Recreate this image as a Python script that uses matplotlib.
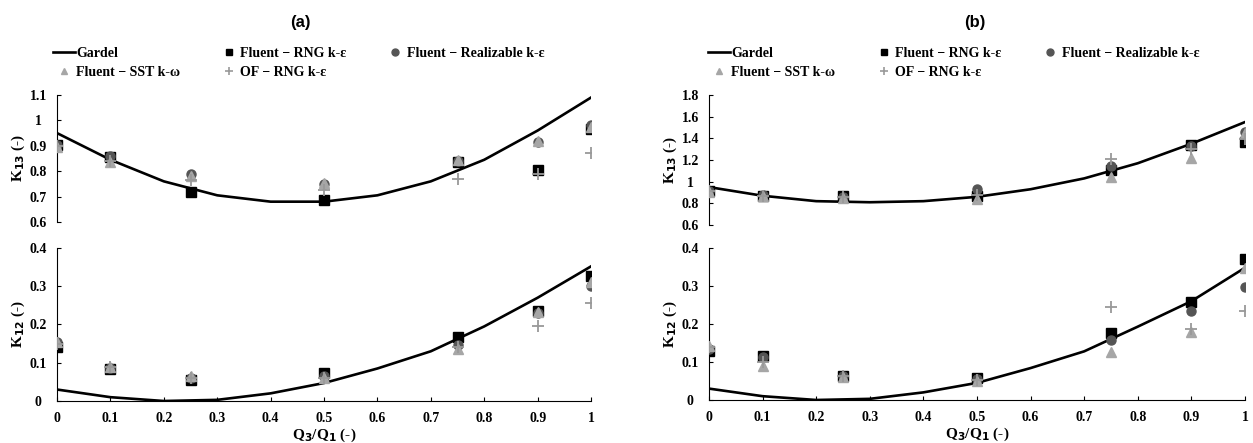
import numpy as np
import matplotlib
matplotlib.use("Agg")
import matplotlib.pyplot as plt
from matplotlib.lines import Line2D
from matplotlib.ticker import FuncFormatter

plt.rcParams['font.family'] = ['Liberation Serif', 'DejaVu Serif']
plt.rcParams['font.weight'] = 'bold'

# Gardel curve
x_line = [0, 0.1, 0.2, 0.3, 0.4, 0.5, 0.6, 0.7, 0.8, 0.9, 1.0]
gardel_k13_a = [0.95, 0.845, 0.76, 0.705, 0.68, 0.68, 0.705, 0.76, 0.845, 0.96, 1.09]
gardel_k12_a = [0.03, 0.01, 0.0, 0.003, 0.02, 0.047, 0.085, 0.13, 0.195, 0.27, 0.352]
gardel_k13_b = [0.95, 0.87, 0.82, 0.81, 0.82, 0.86, 0.93, 1.03, 1.17, 1.35, 1.55]
gardel_k12_b = [0.03, 0.01, 0.0, 0.003, 0.02, 0.045, 0.084, 0.128, 0.193, 0.26, 0.348]

# CFD points
x_pts = [0, 0.1, 0.25, 0.5, 0.75, 0.9, 1.0]

rng_k13_a = [0.905, 0.855, 0.72, 0.685, 0.835, 0.805, 0.965]
real_k13_a = [0.905, 0.86, 0.79, 0.75, 0.84, 0.915, 0.98]
sst_k13_a = [0.895, 0.835, 0.78, 0.755, 0.845, 0.92, 0.975]
of_k13_a = [0.90, 0.84, 0.765, 0.725, 0.77, 0.79, 0.87]

rng_k12_a = [0.14, 0.083, 0.055, 0.073, 0.168, 0.235, 0.327]
real_k12_a = [0.155, 0.087, 0.06, 0.065, 0.147, 0.23, 0.30]
sst_k12_a = [0.155, 0.09, 0.065, 0.06, 0.135, 0.233, 0.31]
of_k12_a = [0.15, 0.088, 0.06, 0.06, 0.14, 0.197, 0.257]

rng_k13_b = [0.91, 0.87, 0.87, 0.87, 1.11, 1.34, 1.37]
real_k13_b = [0.91, 0.875, 0.86, 0.93, 1.14, 1.33, 1.46]
sst_k13_b = [0.905, 0.865, 0.85, 0.84, 1.04, 1.22, 1.45]
of_k13_b = [0.91, 0.87, 0.86, 0.88, 1.21, 1.30, 1.39]

rng_k12_b = [0.128, 0.115, 0.062, 0.058, 0.177, 0.259, 0.371]
real_k12_b = [0.135, 0.113, 0.063, 0.055, 0.157, 0.234, 0.298]
sst_k12_b = [0.142, 0.09, 0.06, 0.05, 0.126, 0.18, 0.347]
of_k12_b = [0.14, 0.10, 0.062, 0.052, 0.245, 0.186, 0.235]

c_rng = 'black'
c_real = '#555555'
c_sst = '#a6a6a6'
c_of = '#999999'
fs = 10


def fmt(v, pos):
    return '%g' % round(v, 2)


def draw(ax, gardel, rng, real, sst, of):
    ax.plot(x_line, gardel, color='black', lw=1.9, zorder=2)
    ax.plot(x_pts, rng, 's', color=c_rng, ms=7, zorder=3)
    ax.plot(x_pts, real, 'o', color=c_real, ms=6.5, zorder=4)
    ax.plot(x_pts, sst, '^', color=c_sst, ms=6.5, zorder=5)
    ax.plot(x_pts, of, '+', color=c_of, ms=8, mew=1.3, zorder=6)
    ax.set_xlim(0, 1)
    for s in ['top', 'right']:
        ax.spines[s].set_visible(False)
    ax.spines['left'].set_linewidth(0.8)
    ax.spines['bottom'].set_linewidth(0.8)
    ax.tick_params(direction='in', length=3, width=0.8, labelsize=fs)
    ax.tick_params(axis='y', pad=13.5)
    ax.tick_params(axis='x', pad=8)
    ax.yaxis.set_major_formatter(FuncFormatter(fmt))
    ax.xaxis.set_major_formatter(FuncFormatter(fmt))
    ax.set_xticks(np.arange(0, 1.01, 0.1))


def center_yticks(ax):
    for lab in ax.get_yticklabels():
        lab.set_horizontalalignment('center')


fig = plt.figure(figsize=(12.53, 4.43), dpi=100)

panels = [
    ('(a)', 0.0455, 0.4262, 0.4989, 0.2867, 0.0948, 0.3454,
     gardel_k13_a, rng_k13_a, real_k13_a, sst_k13_a, of_k13_a, (0.6, 1.1), 0.1,
     gardel_k12_a, rng_k12_a, real_k12_a, sst_k12_a, of_k12_a, 300, 53),
    ('(b)', 0.5658, 0.4278, 0.4921, 0.2935, 0.0971, 0.3431,
     gardel_k13_b, rng_k13_b, real_k13_b, sst_k13_b, of_k13_b, (0.6, 1.8), 0.2,
     gardel_k12_b, rng_k12_b, real_k12_b, sst_k12_b, of_k12_b, 975, 708),
]

for (title, x0, w, yb_top, h_top, yb_bot, h_bot,
     g13, r13, re13, s13, o13, ylim13, step13,
     g12, r12, re12, s12, o12, title_x, leg_x) in panels:
    ax1 = fig.add_axes([x0, yb_top, w, h_top])
    draw(ax1, g13, r13, re13, s13, o13)
    ax1.set_ylim(*ylim13)
    ax1.set_yticks(np.arange(ylim13[0], ylim13[1] + 1e-6, step13))
    ax1.spines['bottom'].set_visible(False)
    ax1.tick_params(axis='x', bottom=False, labelbottom=False)
    ax1.set_ylabel('K$_{\\mathbf{13}}$ (-)', fontsize=11, fontweight='bold', labelpad=2)
    ax1.patch.set_alpha(0)
    center_yticks(ax1)

    ax2 = fig.add_axes([x0, yb_bot, w, h_bot])
    draw(ax2, g12, r12, re12, s12, o12)
    ax2.set_ylim(0, 0.4)
    ax2.set_yticks(np.arange(0, 0.41, 0.1))
    ax2.set_ylabel('K$_{\\mathbf{12}}$ (-)', fontsize=11, fontweight='bold', labelpad=2)
    ax2.set_xlabel('Q$_{\\mathbf{3}}$/Q$_{\\mathbf{1}}$ (-)', fontsize=11, fontweight='bold', labelpad=1)
    ax2.patch.set_alpha(0)
    center_yticks(ax2)

    fig.text(title_x / 1253, 1 - 22 / 443, title, ha='center', va='center',
             fontsize=12, fontweight='bold', family='Liberation Sans')

    handles = [
        Line2D([], [], color='black', lw=1.9),
        Line2D([], [], ls='none', marker='^', color=c_sst, ms=5),
        Line2D([], [], ls='none', marker='s', color=c_rng, ms=5),
        Line2D([], [], ls='none', marker='+', color=c_of, ms=6, mew=1.2),
        Line2D([], [], ls='none', marker='o', color=c_real, ms=5),
    ]
    labels = ['Gardel', 'Fluent \u2212 SST k-\u03c9', 'Fluent \u2212 RNG k-\u03b5',
              'OF \u2212 RNG k-\u03b5', 'Fluent \u2212 Realizable k-\u03b5']
    fig.legend(handles, labels, loc='upper left', ncol=3, frameon=False,
               bbox_to_anchor=(leg_x / 1253, 1 - 47 / 443), borderpad=0,
               borderaxespad=0, handlelength=1.6, handletextpad=0.05,
               columnspacing=2.7, labelspacing=0.4,
               prop={'family': 'Liberation Serif', 'weight': 'bold', 'size': fs})

fig.savefig('out.png', dpi=100)
